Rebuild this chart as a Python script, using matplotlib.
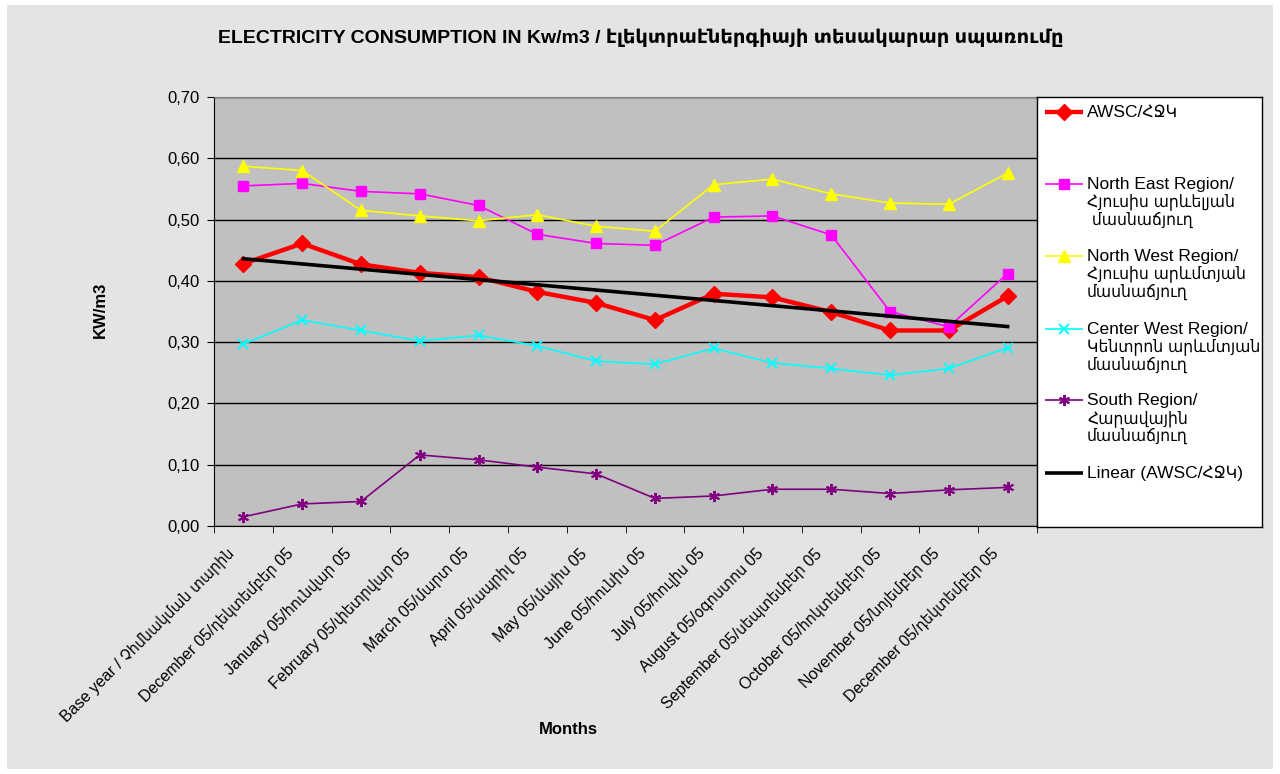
import numpy as np
import matplotlib
matplotlib.use("Agg")
import matplotlib.pyplot as plt
import matplotlib.transforms as mtransforms
from matplotlib.patches import Rectangle
from matplotlib.ticker import FuncFormatter, FixedLocator

plt.rcParams['font.family'] = ['Liberation Sans', 'DejaVu Sans']

categories = [
    "Base year / Չհմնակման տարին",
    "December 05/դեկտեմբեր 05",
    "January 05/հունվար 05",
    "February 05/փետրվար 05",
    "March 05/մարտ 05",
    "April 05/ապրիլ 05",
    "May 05/մայիս 05",
    "June 05/հունիս 05",
    "July 05/հուլիս 05",
    "August 05/օգոստոս 05",
    "September 05/սեպտեմբեր 05",
    "October 05/հոկտեմբեր 05",
    "November 05/նոյեմբեր 05",
    "December 05/դեկտեմբեր 05",
]

awsc = [0.428, 0.461, 0.427, 0.413, 0.406, 0.382, 0.364, 0.336, 0.379, 0.373, 0.349, 0.319, 0.319, 0.375]
north_east = [0.555, 0.559, 0.546, 0.542, 0.523, 0.476, 0.461, 0.458, 0.504, 0.506, 0.475, 0.350, 0.325, 0.412]
north_west = [0.587, 0.580, 0.515, 0.506, 0.498, 0.508, 0.489, 0.481, 0.557, 0.566, 0.542, 0.527, 0.525, 0.576]
center_west = [0.297, 0.336, 0.319, 0.302, 0.311, 0.294, 0.269, 0.264, 0.290, 0.266, 0.257, 0.246, 0.257, 0.291]
south = [0.015, 0.036, 0.040, 0.116, 0.108, 0.096, 0.085, 0.045, 0.049, 0.060, 0.060, 0.053, 0.059, 0.063]

legend_labels = [
    "AWSC/ՀՋԿ",
    "North East Region/\nՀյուսիս արևելյան\n մասնաճյուղ",
    "North West Region/\nՀյուսիս արևմտյան\nմասնաճյուղ",
    "Center West Region/\nԿենտրոն արևմտյան\nմասնաճյուղ",
    "South Region/\nՀարավային\nմասնաճյուղ",
    "Linear (AWSC/ՀՋԿ)",
]

W, H = 1280, 774
fig = plt.figure(figsize=(W / 100, H / 100), dpi=100)
fig.patch.set_facecolor('white')
fig.patches.append(Rectangle((7 / W, 5 / H), 1 - 14 / W, 1 - 10 / H, transform=fig.transFigure,
                             facecolor='#e4e4e4', edgecolor='none', zorder=-10))

def fx(px):
    return px / W

def fy(py):
    return 1 - py / H

ax = fig.add_axes([fx(214), fy(526), fx(1037) - fx(214), fy(97) - fy(526)])
ax.set_facecolor('#c0c0c0')

x = np.arange(len(categories))
styles = [
    dict(data=awsc, color='#ff0000', lw=3.2, marker='D', ms=8),
    dict(data=north_east, color='#ff00ff', lw=1.2, marker='s', ms=7.5),
    dict(data=north_west, color='#ffff00', lw=1.2, marker='^', ms=8),
    dict(data=center_west, color='#00ffff', lw=1.2, marker='x', ms=7, mew=1.4),
    dict(data=south, color='#800080', lw=1.2, marker=(6, 2, 0), ms=8, mew=1.4),
]
for s in styles:
    ax.plot(x, s['data'], color=s['color'], lw=s['lw'], marker=s['marker'],
            ms=s['ms'], mec=s['color'], mfc=s['color'], mew=s.get('mew', 1), zorder=3)

coef = np.polyfit(x, awsc, 1)
trend = np.polyval(coef, x)
ax.plot([x[0], x[-1]], [trend[0], trend[-1]], color='black', lw=2.6, zorder=4)

ax.set_xlim(-0.5, len(categories) - 0.5)
ax.set_ylim(0, 0.70)
ax.set_yticks(np.arange(0, 0.71, 0.1))
ax.yaxis.set_major_formatter(FuncFormatter(lambda v, p: f"{v:.2f}".replace('.', ',')))
ax.yaxis.grid(True, color='black', lw=1)
ax.set_axisbelow(True)
ax.tick_params(axis='y', direction='out', length=5, labelsize=12, pad=5)

ax.set_xticks(x)
ax.set_xticklabels(categories, rotation=45, ha='right', rotation_mode='anchor', fontsize=11.5,
                   fontstretch='condensed')
ax.tick_params(axis='x', which='major', length=0, pad=12)
offset = mtransforms.ScaledTranslation(-17 / 100, -3 / 100, fig.dpi_scale_trans)
for lab in ax.get_xticklabels():
    lab.set_transform(lab.get_transform() + offset)
ax.xaxis.set_minor_locator(FixedLocator(np.arange(-0.5, len(categories), 1)))
ax.tick_params(axis='x', which='minor', direction='out', length=5)

for sp in ['top', 'right']:
    ax.spines[sp].set_color('#808080')
for sp in ['left', 'bottom']:
    ax.spines[sp].set_color('black')

fig.text(fx(100), fy(310), 'KW/m3', fontsize=12, fontweight='bold', ha='center', va='center', rotation=90)
fig.text(fx(568), fy(730), 'Months', fontsize=12, fontweight='bold', ha='center', va='center')

fig.text(fx(641), fy(38), 'ELECTRICITY CONSUMPTION IN Kw/m3 / էլեկտրաէներգիայի տեսակարար սպառումը',
         fontsize=14, fontweight='bold', ha='center', va='center')

# legend box
lax = fig.add_axes([fx(1037), fy(527), fx(1262) - fx(1037), fy(97) - fy(527)])
lax.set_xlim(1037, 1262)
lax.set_ylim(527, 97)
lax.set_facecolor('white')
for sp in lax.spines.values():
    sp.set_color('black')
    sp.set_linewidth(1)
lax.set_xticks([])
lax.set_yticks([])

entry_y = [112, 184, 256, 329, 400, 473]
for i, (yy, lab) in enumerate(zip(entry_y, legend_labels)):
    if i < 5:
        s = styles[i]
        lax.plot([1045, 1083], [yy, yy], color=s['color'], lw=s['lw'], solid_capstyle='butt')
        lax.plot([1064], [yy], marker=s['marker'], ms=s['ms'], color=s['color'],
                 mec=s['color'], mfc=s['color'], mew=s.get('mew', 1))
    else:
        lax.plot([1045, 1083], [yy, yy], color='black', lw=2.6, solid_capstyle='butt')
    lax.text(1087, yy - 7, lab, fontsize=12.5, ha='left', va='top', linespacing=1.12,
             fontstretch='condensed')

fig.savefig('out.png', dpi=100, facecolor=fig.get_facecolor())
